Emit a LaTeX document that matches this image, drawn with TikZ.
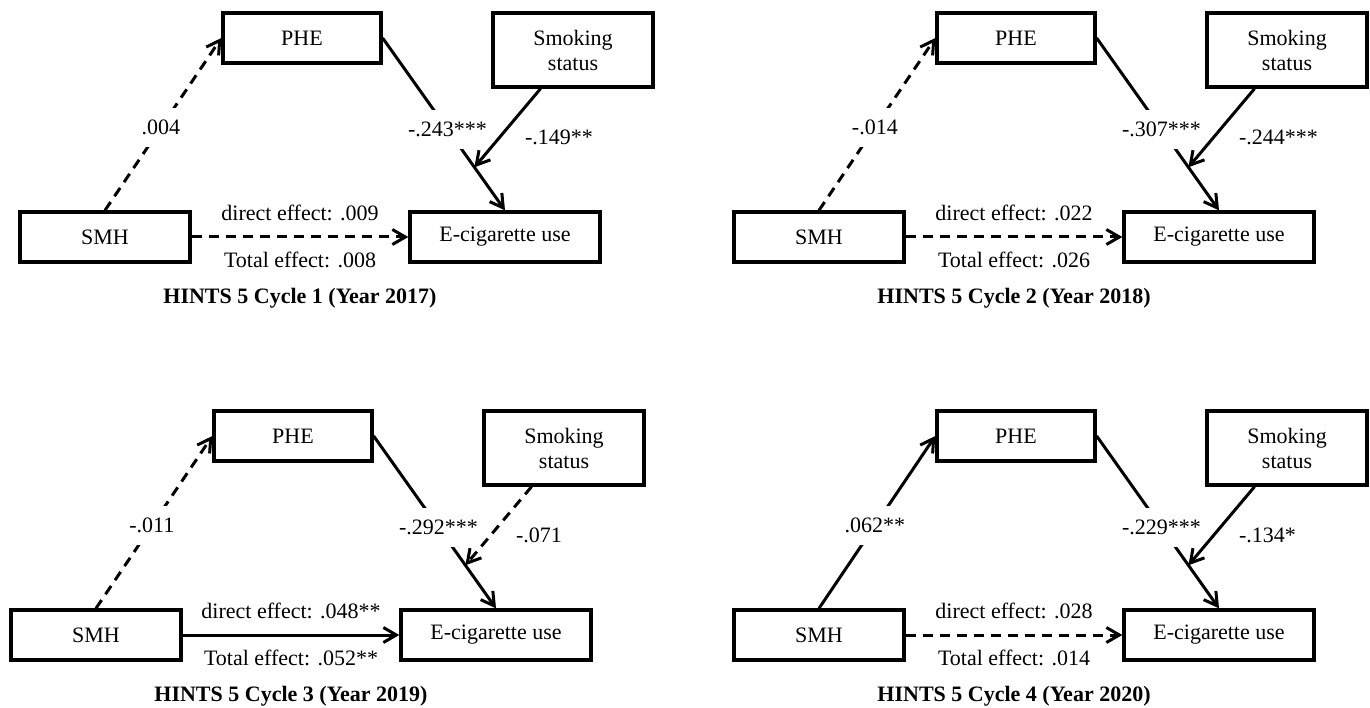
\documentclass[tikz,border=0pt]{standalone}
\usepackage{fontspec}
\setmainfont{Liberation Serif}
\usetikzlibrary{arrows.meta,calc}

\begin{document}
\begin{tikzpicture}[x=1pt, y=-1pt,
  font=\fontsize{22}{25}\selectfont,
  box/.style={draw, line width=3.3pt, inner sep=0pt, minimum height=50pt, align=center},
  arr/.style={-{Straight Barb[length=13pt,width=15pt]}, line width=3pt},
  ns/.style={arr, dash pattern=on 10pt off 7pt},
  coef/.style={fill=white, inner xsep=3pt, inner ysep=12pt},
  side/.style={inner sep=2pt},
  ttl/.style={font=\fontsize{22}{25}\selectfont\bfseries},
]
\useasboundingbox (0,0) rectangle (1370,708);

% Cycle 1
\begin{scope}
\node[box, minimum width=170pt] (smh1) at (105,237) {SMH};
\node[box, minimum width=190pt] (ecig1) at (505,237) {E-cigarette use};
\node[box, minimum width=158pt] (phe1) at (302,38) {PHE};
\node[box, minimum width=160pt, minimum height=74pt] (smk1) at (573,50) {Smoking\\status};
\coordinate (m1) at ($(phe1.east)!0.75!(ecig1.north)$);

\draw[ns] (smh1.north) -- node[coef, pos=0.48] {.004} (phe1.west);
\draw[arr] (phe1.east) -- node[coef, pos=0.53] {-.243***} (ecig1.north);
\draw[arr] (smk1) -- node[side, pos=0.62, right=22pt] {-.149**} (m1);
\draw[ns] (smh1.east) -- node[midway, yshift=24pt] {direct effect: .009}
  node[midway, yshift=-23pt] {Total effect: .008} (ecig1.west);
\node[ttl] (t1) at (300,298) {HINTS 5 Cycle 1 (Year 2017)};
\end{scope}

% Cycle 2
\begin{scope}[shift={(714,0)}]
\node[box, minimum width=170pt] (smh2) at (105,237) {SMH};
\node[box, minimum width=190pt] (ecig2) at (505,237) {E-cigarette use};
\node[box, minimum width=158pt] (phe2) at (302,38) {PHE};
\node[box, minimum width=160pt, minimum height=74pt] (smk2) at (573,50) {Smoking\\status};
\coordinate (m2) at ($(phe2.east)!0.75!(ecig2.north)$);

\draw[ns] (smh2.north) -- node[coef, pos=0.48] {-.014} (phe2.west);
\draw[arr] (phe2.east) -- node[coef, pos=0.53] {-.307***} (ecig2.north);
\draw[arr] (smk2) -- node[side, pos=0.62, right=22pt] {-.244***} (m2);
\draw[ns] (smh2.east) -- node[midway, yshift=24pt] {direct effect: .022}
  node[midway, yshift=-23pt] {Total effect: .026} (ecig2.west);
\node[ttl] (t2) at (300,298) {HINTS 5 Cycle 2 (Year 2018)};
\end{scope}

% Cycle 3
\begin{scope}[shift={(-9,398)}]
\node[box, minimum width=170pt] (smh3) at (105,237) {SMH};
\node[box, minimum width=190pt] (ecig3) at (505,237) {E-cigarette use};
\node[box, minimum width=158pt] (phe3) at (302,38) {PHE};
\node[box, minimum width=160pt, minimum height=74pt] (smk3) at (573,50) {Smoking\\status};
\coordinate (m3) at ($(phe3.east)!0.75!(ecig3.north)$);

\draw[ns] (smh3.north) -- node[coef, pos=0.48] {-.011} (phe3.west);
\draw[arr] (phe3.east) -- node[coef, pos=0.53] {-.292***} (ecig3.north);
\draw[ns] (smk3) -- node[side, pos=0.62, right=22pt] {-.071} (m3);
\draw[arr] (smh3.east) -- node[midway, yshift=24pt] {direct effect: .048**}
  node[midway, yshift=-23pt] {Total effect: .052**} (ecig3.west);
\node[ttl] (t3) at (300,298) {HINTS 5 Cycle 3 (Year 2019)};
\end{scope}

% Cycle 4
\begin{scope}[shift={(714,398)}]
\node[box, minimum width=170pt] (smh4) at (105,237) {SMH};
\node[box, minimum width=190pt] (ecig4) at (505,237) {E-cigarette use};
\node[box, minimum width=158pt] (phe4) at (302,38) {PHE};
\node[box, minimum width=160pt, minimum height=74pt] (smk4) at (573,50) {Smoking\\status};
\coordinate (m4) at ($(phe4.east)!0.75!(ecig4.north)$);

\draw[arr] (smh4.north) -- node[coef, pos=0.48] {.062**} (phe4.west);
\draw[arr] (phe4.east) -- node[coef, pos=0.53] {-.229***} (ecig4.north);
\draw[arr] (smk4) -- node[side, pos=0.62, right=22pt] {-.134*} (m4);
\draw[ns] (smh4.east) -- node[midway, yshift=24pt] {direct effect: .028}
  node[midway, yshift=-23pt] {Total effect: .014} (ecig4.west);
\node[ttl] (t4) at (300,298) {HINTS 5 Cycle 4 (Year 2020)};
\end{scope}
\end{tikzpicture}
\end{document}
